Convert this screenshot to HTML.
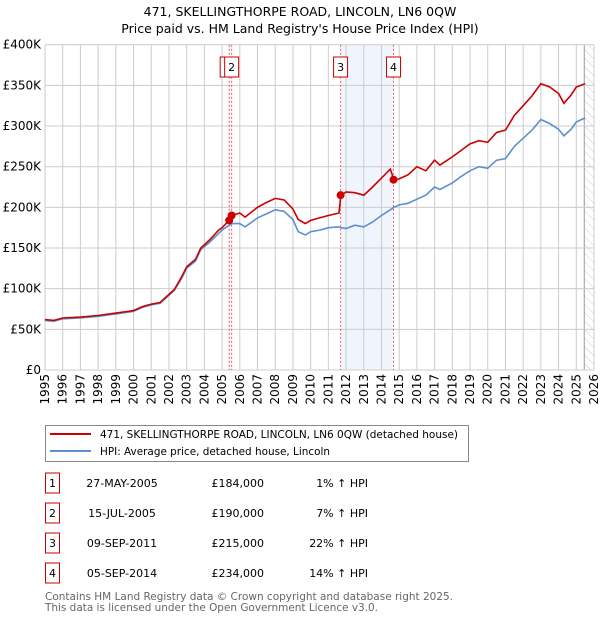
<!DOCTYPE html>
<html><head><meta charset="utf-8"><style>
body{margin:0;background:#fff;font-family:"Liberation Sans","DejaVu Sans",sans-serif;}
svg text{font-family:"DejaVu Sans","Liberation Sans",sans-serif;}
</style></head><body>
<svg id="c" width="600" height="620" xmlns="http://www.w3.org/2000/svg">
<defs><pattern id="hatch" width="6" height="6" patternUnits="userSpaceOnUse" patternTransform="rotate(-45)"><line x1="0" y1="0" x2="0" y2="6" stroke="#ccc" stroke-width="1"/></pattern></defs>
<text x="300" y="16" text-anchor="middle" font-size="12.5">471, SKELLINGTHORPE ROAD, LINCOLN, LN6 0QW</text>
<text x="300" y="33" text-anchor="middle" font-size="12.5">Price paid vs. HM Land Registry's House Price Index (HPI)</text>
<g id="plot"></g>
<g>
<rect x="45.5" y="425.5" width="423" height="36" fill="#fff" stroke="#888"/>
<line x1="50" y1="434" x2="91" y2="434" stroke="#cc0000" stroke-width="2"/>
<text x="100" y="438" font-size="11" textLength="358" lengthAdjust="spacingAndGlyphs">471, SKELLINGTHORPE ROAD, LINCOLN, LN6 0QW (detached house)</text>
<line x1="50" y1="451" x2="91" y2="451" stroke="#5b8fd0" stroke-width="2"/>
<text x="100" y="455" font-size="11" textLength="230" lengthAdjust="spacingAndGlyphs">HPI: Average price, detached house, Lincoln</text>
</g>
<g id="table" font-size="11"></g>
<text x="45" y="600" font-size="11" fill="#666" textLength="408" lengthAdjust="spacingAndGlyphs">Contains HM Land Registry data © Crown copyright and database right 2025.</text>
<text x="45" y="611" font-size="11" fill="#666" textLength="333" lengthAdjust="spacingAndGlyphs">This data is licensed under the Open Government Licence v3.0.</text>
</svg>
<script>
const years=[1995,1995.5,1996,1997,1998,1999,2000,2000.5,2001,2001.5,2002,2002.3,2002.7,2003,2003.5,2003.8,2004.3,2004.8,2005,2005.4,2005.55,2006,2006.3,2007,2007.5,2008,2008.5,2009,2009.3,2009.7,2010,2010.5,2011,2011.6,2011.7,2012,2012.5,2013,2013.5,2014,2014.5,2014.7,2015,2015.5,2016,2016.5,2017,2017.3,2018,2018.5,2019,2019.5,2020,2020.5,2021,2021.5,2022,2022.5,2023,2023.5,2024,2024.3,2024.7,2025,2025.5];
const hpiValues=[61,60,63,64,66,69,72,77,80,82,92,98,112,125,134,148,157,168,172,178,180,180,176,187,192,197,195,185,170,166,170,172,175,176,175,174,178,176,182,190,197,200,203,205,210,215,225,222,230,238,245,250,248,258,260,275,285,295,308,303,296,288,296,305,310];
const priceValues=[62,61,64,65,67,70,73,78,81,83,93,99,114,127,136,150,160,172,175,184,190,193,188,200,206,211,209,198,185,180,184,187,190,193,215,219,218,215,225,236,247,234,235,240,250,245,258,252,262,270,278,282,280,292,295,313,325,337,352,348,340,328,338,348,352];
const saleLabels=["1","2","3","4"];
const saleYears=[2005.4,2005.54,2011.69,2014.68];
const salePrices=[184,190,215,234];
const saleDates=["27-MAY-2005","15-JUL-2005","09-SEP-2011","05-SEP-2014"];
const salePriceText=["£184,000","£190,000","£215,000","£234,000"];
const saleHpiText=["1% ↑ HPI","7% ↑ HPI","22% ↑ HPI","14% ↑ HPI"];
const yTicks=[0,50,100,150,200,250,300,350,400];
const yTickLabels=["£0","£50K","£100K","£150K","£200K","£250K","£300K","£350K","£400K"];
const xTicks=[1995,1996,1997,1998,1999,2000,2001,2002,2003,2004,2005,2006,2007,2008,2009,2010,2011,2012,2013,2014,2015,2016,2017,2018,2019,2020,2021,2022,2023,2024,2025,2026];

const X0=45,X1=594,Y0=370,Y1=44.7;
const xs=v=>X0+(v-1995)/(2026-1995)*(X1-X0);
const ys=v=>Y0-(v/400)*(Y0-Y1);
const NS="http://www.w3.org/2000/svg";
const plot=document.getElementById('plot');
function mk(tag,attrs,parent){const e=document.createElementNS(NS,tag);for(const k in attrs)e.setAttribute(k,attrs[k]);(parent||plot).appendChild(e);return e;}

let b=mk('rect',{x:xs(saleYears[2]),y:Y1,width:xs(saleYears[3])-xs(saleYears[2]),height:Y0-Y1,fill:'#f0f4fd'});


let b2=mk('rect',{x:xs(saleYears[0]),y:Y1,width:xs(saleYears[1])-xs(saleYears[0]),height:Y0-Y1,fill:'#f0f4fd'});


let h=mk('rect',{x:xs(2025.45),y:Y1,width:X1-xs(2025.45),height:Y0-Y1,fill:'url(#hatch)'});


mk('line',{x1:xs(2025.45),y1:Y1,x2:xs(2025.45),y2:Y0,stroke:'#999'});

yTicks.forEach((t,i)=>{
  const g=mk('line',{x1:X0,x2:X1,y1:ys(t),y2:ys(t),stroke:'#ccc'});
  
  
  const l=mk('text',{x:X0-4,y:ys(t)+4,'text-anchor':'end','font-size':'12'});
  l.textContent=yTickLabels[i];
  
  
});
xTicks.forEach(t=>{
  const g=mk('line',{x1:xs(t),x2:xs(t),y1:Y1,y2:Y0,stroke:'#ccc'});
  
  
  const l=mk('text',{x:0,y:0,'text-anchor':'end','font-size':'12',transform:`translate(${xs(t)+4},${Y0+4}) rotate(-90)`});
  l.textContent=t;
  
  
});

saleYears.forEach((s,i)=>{
  const v=mk('line',{x1:xs(s),x2:xs(s),y1:Y1,y2:Y0,stroke:'#f06060','stroke-dasharray':'2,2'});
  
  
});
const boxX=[xs(saleYears[0])-9,xs(saleYears[1])-7,xs(saleYears[2])-7,xs(saleYears[3])-7];
saleLabels.forEach((s,i)=>{
  const r=mk('rect',{x:boxX[i],y:57,width:14,height:20,fill:'#fff',stroke:'#cc0000'});
  
  
  const t=mk('text',{x:boxX[i]+7,y:71,'text-anchor':'middle','font-size':'11'});
  t.textContent=s;
  
  
});

const path=vals=>years.map((y,i)=>(i?'L':'M')+xs(y).toFixed(1)+','+ys(vals[i]).toFixed(1)).join('');
const hp=mk('path',{d:path(hpiValues),fill:'none',stroke:'#5b8fd0','stroke-width':1.6});


const pp=mk('path',{d:path(priceValues),fill:'none',stroke:'#cc0000','stroke-width':1.6});


saleYears.forEach((s,i)=>{
  const c=mk('circle',{cx:xs(s),cy:ys(salePrices[i]),r:4,fill:'#cc0000'});
  
  
});

const tbl=document.getElementById('table');
saleLabels.forEach((s,i)=>{
  const yy=483+i*30;
  const r=mk('rect',{x:45.5,y:yy-10,width:14,height:20,fill:'none',stroke:'#cc0000'},tbl);
  
  
  const cells=[[52.5,s,'middle'],[122,saleDates[i],'middle'],[264,salePriceText[i],'end'],[368,saleHpiText[i],'end']];
  cells.forEach(c=>{
    const t=mk('text',{x:c[0],y:yy+4,'text-anchor':c[2]},tbl);
    t.textContent=c[1];
    
    
  });
});
</script>
</body></html>
